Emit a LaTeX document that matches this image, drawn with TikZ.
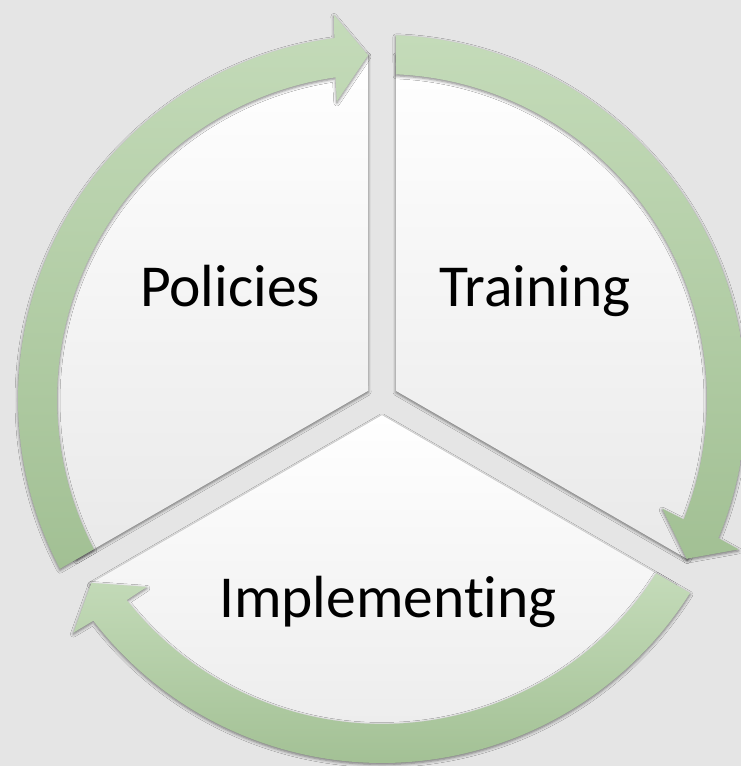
\documentclass[tikz,border=0pt]{standalone}
\usepackage{fontspec}
\setmainfont{Carlito}[Ligatures=NoCommon]
\usetikzlibrary{shadows.blur}
\definecolor{bgc}{HTML}{E5E5E5}
\definecolor{glight}{HTML}{C4DBB9}
\definecolor{gdark}{HTML}{A2C094}
\definecolor{sgray}{HTML}{E9E9E9}
\tikzset{
  sectorshape/.style={top color=white, middle color=white, bottom color=sgray,
    blur shadow={shadow xshift=0pt, shadow yshift=-1.5pt, shadow blur radius=3pt, shadow opacity=55}},
  ringarrow/.style={top color=glight, bottom color=gdark,
    blur shadow={shadow xshift=0pt, shadow yshift=-1.5pt, shadow blur radius=3pt, shadow opacity=50}},
  cyclabel/.style={font=\fontsize{59.5}{66}\selectfont, anchor=base, text=black, inner sep=0pt}
}
\newcommand{\cycarrow}[2]{%
  \pgfmathsetmacro{\cAto}{#1-2.2}%
  \pgfmathsetmacro{\cAti}{#1-2.47}%
  \pgfmathsetmacro{\cAtip}{#2+2.33}%
  \pgfmathsetmacro{\cAnko}{\cAtip+5.2}%
  \pgfmathsetmacro{\cAnki}{\cAtip+5.9}%
  \pgfmathsetmacro{\cAbko}{\cAtip+4.8}%
  \pgfmathsetmacro{\cAbki}{\cAtip+6.3}%
  \path[ringarrow] (\cAto:364) arc[start angle=\cAto, end angle=\cAnko, radius=364]
    -- (\cAbko:387) -- (\cAtip:344) -- (\cAbki:301) -- (\cAnki:325)
    arc[start angle=\cAnki, end angle=\cAti, radius=325] -- cycle;
}
\begin{document}
\begin{tikzpicture}[x=1pt,y=1pt]
\fill[bgc] (0,0) rectangle (741,766);
\useasboundingbox (0,0) rectangle (741,766);
\begin{scope}[shift={(382,367)}]
  % sectors
  \path[sectorshape] (150:16.17) -- (92.33:345) arc[start angle=92.33, end angle=207.67, radius=345] -- cycle;
  \path[sectorshape] (30:16.17) -- (-27.67:345) arc[start angle=-27.67, end angle=87.67, radius=345] -- cycle;
  \path[sectorshape] (270:16.17) -- (212.33:345) arc[start angle=212.33, end angle=327.67, radius=345] -- cycle;
  % arrows
  \cycarrow{210}{90}
  \cycarrow{90}{-30}
  \cycarrow{-30}{-150}
  % labels
  \node[cyclabel] (pol) at (-152,92) {Policies};
  \node[cyclabel] (tra) at (153,92) {Training};
  \node[cyclabel] (imp) at (6,-219) {Implementing};
\end{scope}
\end{tikzpicture}
\end{document}
